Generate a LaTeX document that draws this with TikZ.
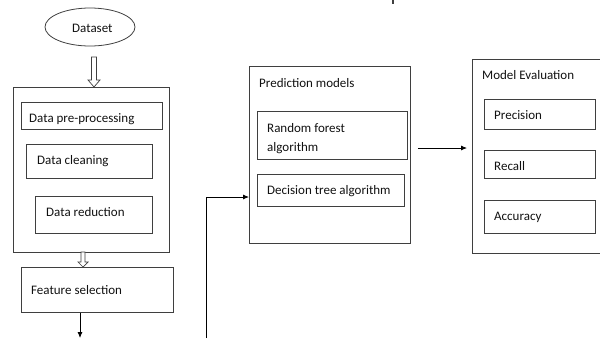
\documentclass[tikz,border=0pt]{standalone}
\usepackage{fontspec}
\setmainfont{Carlito}
\usetikzlibrary{arrows.meta,shapes.geometric,calc}
\definecolor{linec}{HTML}{3F3F3F}
\definecolor{txtc}{HTML}{111111}
\tikzset{
  bx/.style={draw=linec, line width=0.8pt, rectangle, inner sep=0pt, anchor=north west},
  tx/.style={inner sep=0pt, anchor=base west, text=txtc, font=\fontsize{13}{19}\selectfont},
  hollow/.style={draw=linec, line width=0.7pt, fill=white, line join=miter},
  arr/.style={draw=black, line width=0.8pt, -{Latex[length=6pt,width=5pt]}}
}
\begin{document}
\begin{tikzpicture}[x=1pt,y=-1pt]
\useasboundingbox (0,0) rectangle (600,338);
% left column
\node[draw=linec, line width=0.8pt, ellipse, minimum width=90pt, minimum height=38pt, inner sep=0pt] (ds) at (90,27) {};
\node[tx] (dst) at (72,32) {Dataset};
\node[bx, minimum width=156pt, minimum height=165pt] (big) at (13,87) {};
\node[bx, minimum width=141pt, minimum height=27pt] (pp) at (21,102) {};
\node[tx] (ppt) at (29,122) {Data pre-processing};
\node[bx, minimum width=126pt, minimum height=34pt] (dc) at (26,144) {};
\node[tx] (dct) at (37,164) {Data cleaning};
\node[bx, minimum width=117pt, minimum height=37pt] (dr) at (35,196) {};
\node[tx] (drt) at (46,216) {Data reduction};
\node[bx, minimum width=152pt, minimum height=45pt] (fs) at (21,267) {};
\node[tx] (fst) at (31,294) {Feature selection};
% hollow arrows
\coordinate (h1) at (big.north -| 94,0);
\draw[hollow] (h1) -- ++(-6,-7) -- ++(3.5,0) -- ++(0,-23) -- ++(5,0) -- ++(0,23) -- ++(3.5,0) -- cycle;
\coordinate (h2) at (fs.north -| 83,0);
\draw[hollow] (h2) -- ++(-5,-5) -- ++(3,0) -- ++(0,-10) -- ++(4,0) -- ++(0,10) -- ++(3,0) -- cycle;
% feature arrow
\coordinate (fe) at (80,338);
\draw[arr] (fs.south -| fe) -- (fe);
% prediction models
\node[bx, minimum width=161pt, minimum height=177pt] (pm) at (249,66) {};
\node[tx] (pmt) at (259,87) {Prediction models};
\node[bx, minimum width=150pt, minimum height=48pt] (rf) at (257,111) {};
\node[tx] (rft) at (267,132) {Random forest};
\node[tx] (rft2) at (267,151) {algorithm};
\node[bx, minimum width=147pt, minimum height=32pt] (dt) at (257,174) {};
\node[tx] (dtt) at (267,194) {Decision tree algorithm};
% left connector
\coordinate (lb) at (206,338);
\draw[arr] (lb) |- (pm.west |- 0,197);
% model evaluation
\node[bx, minimum width=140pt, minimum height=194pt] (me) at (472,59) {};
\node[tx] (met) at (482,79) {Model Evaluation};
\node[bx, minimum width=111pt, minimum height=30pt] (pr) at (484,99) {};
\node[tx] (prt) at (494,119) {Precision};
\node[bx, minimum width=111pt, minimum height=28pt] (rc) at (484,150) {};
\node[tx] (rct) at (494,170) {Recall};
\node[bx, minimum width=111pt, minimum height=33pt] (ac) at (484,200) {};
\node[tx] (act) at (494,220) {Accuracy};
\draw[arr, shorten <=7pt, shorten >=5pt] (pm.east |- 0,148) -- (me.west |- 0,148);
% small mark at top
\draw[linec, line width=1.2pt] (393,0) -- (393,4);
\end{tikzpicture}
\end{document}
